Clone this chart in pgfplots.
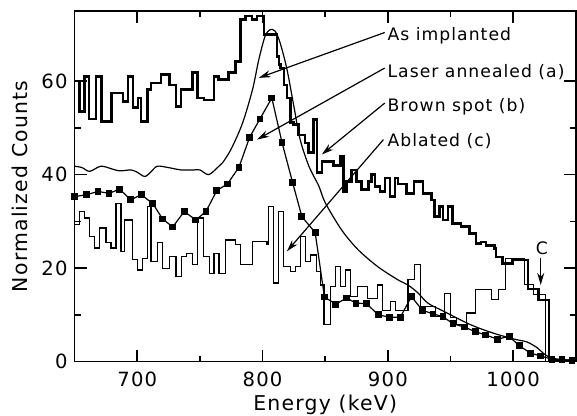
\documentclass[border=0pt]{standalone}
\usepackage{fontspec}
\setmainfont{DejaVu Sans}[LetterSpace=6]
\usepackage{pgfplots}
\pgfplotsset{compat=1.18}
\usetikzlibrary{arrows.meta}

\begin{document}
\begin{tikzpicture}
\useasboundingbox (0,0) rectangle (288.5pt,208pt);
\begin{axis}[
  at={(37.3pt,27.2pt)}, anchor=south west,
  scale only axis, width=250.6pt, height=175.3pt,
  xmin=650, xmax=1050, ymin=0, ymax=75,
  xtick={700,800,900,1000}, ytick={0,20,40,60},
  minor x tick num=1, minor y tick num=1,
  major tick length=6pt, minor tick length=3pt,
  tick align=inside,
  axis line style={line width=0.9pt},
  every tick/.style={line width=0.8pt, black},
  ticklabel style={font=\fontsize{9.8}{11}\selectfont},
  xticklabel style={yshift=-1.5pt},
  /pgf/number format/assume math mode=true,
  /pgf/number format/1000 sep={},
  xlabel={Energy (keV)}, ylabel={Normalized Counts},
  label style={font=\fontsize{10.2}{12}\selectfont},
  xlabel style={at={(axis description cs:0.5,-0.124)}, anchor=center},
  ylabel style={at={(axis description cs:-0.109,0.5)}, anchor=center, rotate=0},
  clip=true,
]
% As implanted (thick histogram)
\addplot[const plot, line width=1.3pt, black] coordinates {
  (650,60)(653.7,53.5)(658,61)(661.6,51.9)(667,61)(671.4,51.4)
  (679.4,57.5)(688.6,55.7)(692.5,61)(696.5,54.3)(700.5,56.4)(703,51.4)
  (708.4,58.2)(711,59.6)(719,61.4)(725.6,59.2)(731,54.6)(735,58.2)
  (744,61.8)(748,56.4)(753.4,56)(761.3,61)(765,60.3)(773,61.8)
  (778.6,64.2)(782.5,73.2)(786.5,73.9)(791.7,73.2)(795.7,73.9)(801,70)
  (811.6,65.3)(813,63.5)(814.3,62.8)(817,59.2)(819.5,56.4)(822.2,51.1)
  (824.8,50.7)(828.8,48.5)(834,46.8)(836.7,44.7)(840.7,51.8)(843.3,40.4)
  (847.3,42.8)(856.6,42)(862,43.9)(864.5,36.4)(867.1,38.5)(871,41)
  (875,38.5)(879,36.8)(884.4,38.5)(887,40)(889.7,37.5)(893.6,36.4)
  (897.6,39.3)(901.6,35.3)(905.6,39.3)(908.2,38)(915,36)(921,38.5)
  (928,36)(934.6,34.6)(937.3,31)(941.3,33.2)(943.9,30.3)(947.9,33.2)
  (951.8,29.6)(958.4,28.9)(965,27.4)(970.3,25.3)(974.3,25.6)(978.2,24.9)
  (984.9,24.2)(986.2,22.4)(991.5,21)(999.4,21.7)(1012,15.5)(1020,13.2)
  (1028.6,0)(1050,0)
};
% Laser annealed (a) (smooth thin curve)
\addplot[smooth, line width=0.6pt, black] coordinates {
  (650,41.8)(656,41.5)(662,40.7)(671,41.8)(680,41.2)(686,40.8)
  (695,41.0)(700,40.5)(706,39.6)(711,40.6)(716,41.8)(725,41.5)
  (735,41)(745,41)(750,41)(757,40)(764,41.5)(768,42.5)(775,45.5)
  (784,51)(792,58.2)(797,64.6)(802,69.6)(806,71)(810,70.7)(814,68.2)
  (819.5,62.5)(825,54.6)(830,47.5)(837,41.8)(845,37.5)(850,34)
  (863,28.2)(876,24)(892,20.3)(908,17.5)(916,16.4)(924,14.7)(932,12.5)
  (945,10.7)(966,7.9)(984,6.1)(1001,4.8)(1011,4.2)(1019,3)(1024,1.8)
  (1030,0.8)(1040,0.4)(1050,0.3)
};
% Brown spot (b) (squares)
\addplot[line width=0.6pt, black, mark=square*, mark size=1.4pt] coordinates {
  (650.2,35.3)(659.5,35.7)(668.7,36.4)(677.5,36.0)(686,36.9)(694.7,34.6)
  (703.2,35.7)(712.4,33.8)(720.3,30.5)(728.3,28.8)(737.5,32.1)(746.8,30.3)
  (754.8,32.1)(763.5,36.6)(772,38.0)(781.2,41.6)(789.7,48.0)(797.9,51.9)
  (807.4,56.4)(815.6,46.8)(824,38.3)(831.4,31.0)(842,27.6)(849.4,13.8)
  (858.4,12.3)(867.1,13.6)(874.6,12.5)(883,12.4)(892.3,10.0)(901.6,9.5)
  (910,9.5)(918.8,13.9)(927.5,11.0)(936,10.2)(944,9.6)(952,8.1)
  (961,7.4)(969.8,6.4)(978,5.7)(987.5,4.8)(996.8,5.4)(1004.8,3.4)
  (1014,1.8)(1022,1.2)(1031,0.5)(1039,0.4)(1047,0.3)
};
% Ablated (c) (thin histogram)
\addplot[const plot, line width=0.6pt, black] coordinates {
  (650,29.3)(654,32.1)(658,30.7)(662,26.8)(666,24.3)(670,28.6)
  (675,25.4)(679,24.3)(683,33.9)(687,23.6)(690,30.3)(696.5,21.8)
  (700.5,19.6)(704.5,22.1)(708.4,33.2)(711,21.4)(716.4,25.4)(720.3,20)
  (725.6,22.5)(731,18.2)(735,22.5)(739,23.2)(744,20.7)(748,30.7)
  (753,22.5)(757.4,18.9)(761.3,23.2)(765.3,18.9)(770.6,26)(778.6,25)
  (782.5,20.7)(791.7,25.7)(803.6,25)(805,33.2)(809,16.8)(813,32.1)
  (817,20.3)(822.2,19.3)(826.2,20.3)(830.2,26.8)(834.1,21.4)(838.1,22.8)
  (843.3,19.3)(846,16.4)(849,7.9)(854,16)(858,20.3)(862,16)
  (866,19.6)(870,13.9)(876,16)(884,13.5)(892,16.4)(896,11)
  (902,12.8)(906,11)(916,17.5)(921,20.7)(926,11.8)(938,9.6)
  (945,14.6)(950,9.5)(955,7.9)(963,10.4)(970,15.4)(983,13.2)
  (988,15.4)(994,22.1)(1009,16.5)(1016,14.3)(1025.7,0)(1050,0)
};
% annotations
\begin{scope}[font=\fontsize{8.6}{10}\selectfont]
\node[anchor=west, inner sep=0pt] at (axis cs:899.5,69.7) {As implanted};
\node[anchor=west, inner sep=0pt] at (axis cs:899.5,62.0) {Laser annealed (a)};
\node[anchor=west, inner sep=0pt] at (axis cs:899.5,54.5) {Brown spot (b)};
\node[anchor=west, inner sep=0pt] at (axis cs:899.5,47.2) {Ablated (c)};
\node[inner sep=0pt] at (axis cs:1023,24.2) {C};
\end{scope}
\begin{scope}[line width=0.6pt, -{Stealth[length=6pt,width=3.5pt]}]
\draw (axis cs:897.5,70.4) -- (axis cs:797,60.7);
\draw (axis cs:897.5,62.8) -- (axis cs:795.7,47.5);
\draw (axis cs:897.5,55.3) -- (axis cs:847.3,44.3);
\draw (axis cs:896.5,47.5) -- (axis cs:819.5,23.6);
\draw (axis cs:1022,22.2) -- (axis cs:1022,16.4);
\end{scope}
\end{axis}
\end{tikzpicture}
\end{document}
